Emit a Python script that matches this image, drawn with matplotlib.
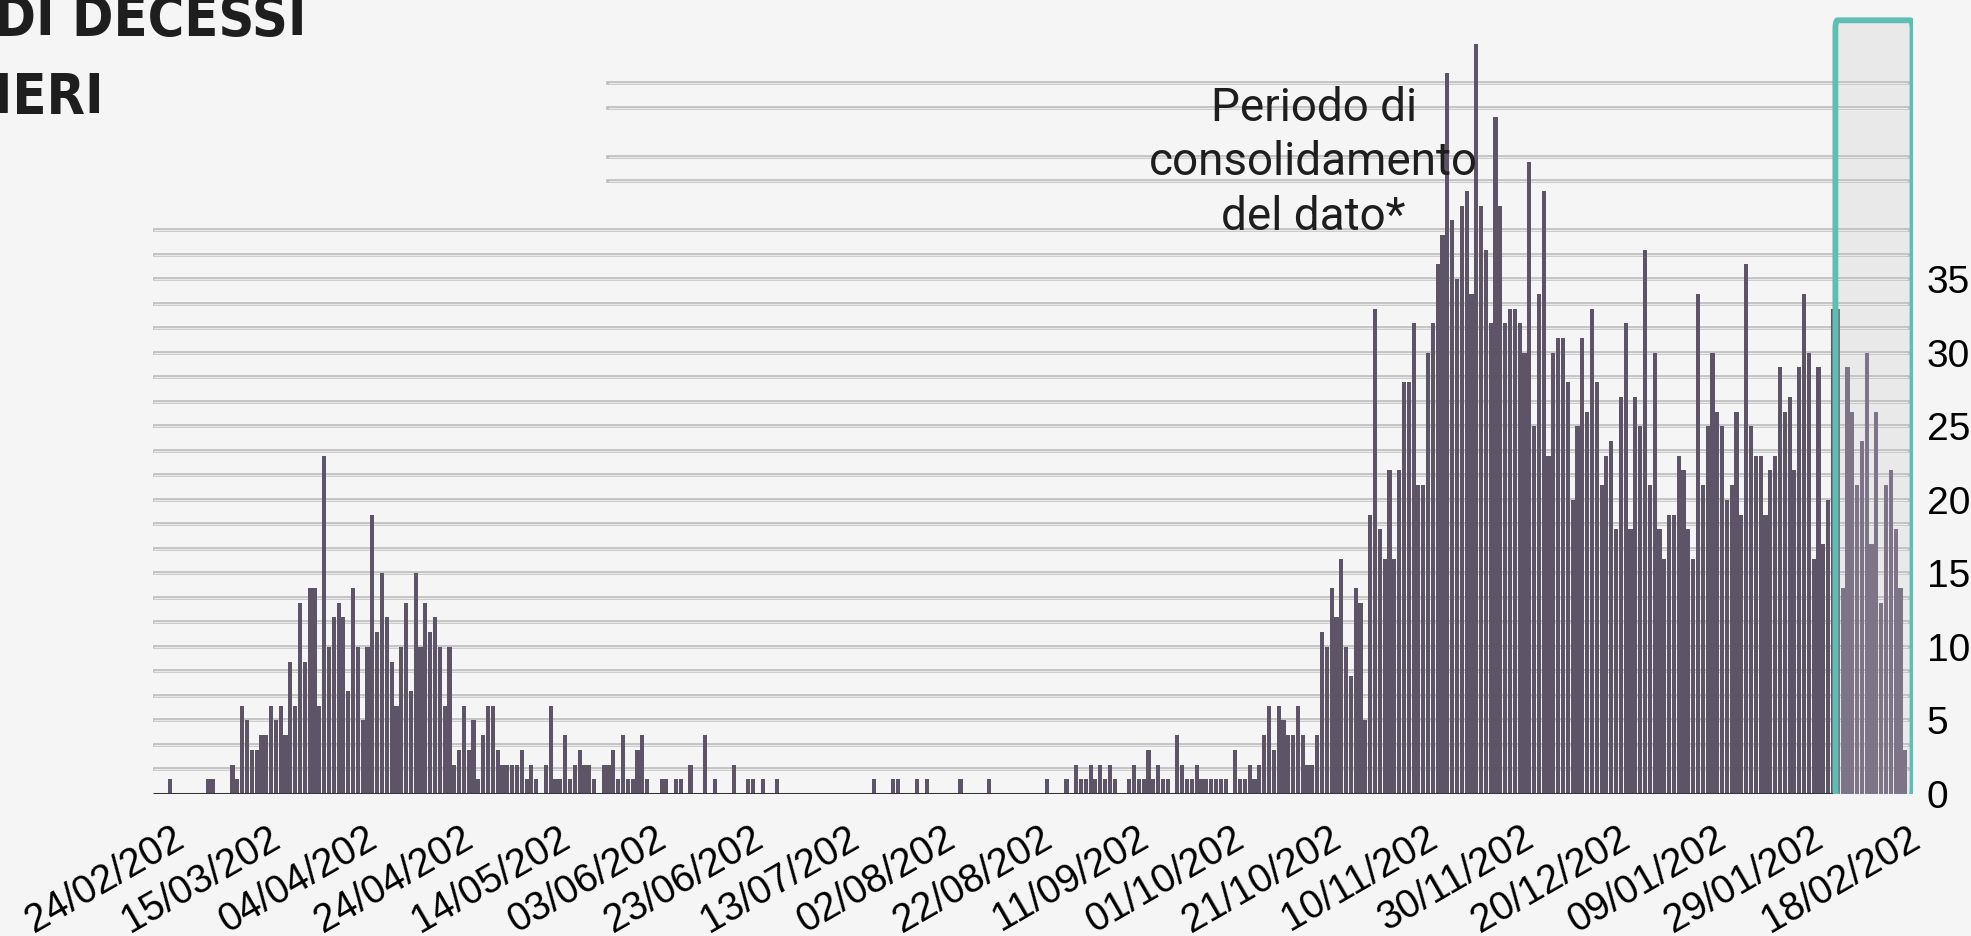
import numpy as np
import pandas as pd
import matplotlib
matplotlib.use("Agg")
import matplotlib.pyplot as plt
import matplotlib.transforms as mtransforms
from matplotlib.patches import Rectangle, FancyBboxPatch

plt.rcParams['font.family'] = ['Liberation Sans', 'DejaVu Sans']

# daily deaths, one value per day starting 24/02/2020
start_date = "2020-02-24"
wave1 = [0, 0, 0, 1, 0, 0, 0, 0, 0, 0,
         0, 1, 1, 0, 0, 0, 2, 1, 6, 5,
         3, 3, 4, 4, 6, 5, 6, 4, 9, 6,
         13, 9, 14, 14, 6, 23, 10, 12, 13, 12,
         7, 14, 10, 5, 10, 19, 11, 15, 12, 9,
         6, 10, 13, 7, 15, 10, 13, 11, 12, 10,
         6, 10, 2, 3, 6, 3, 5, 1, 4, 6]
summer = [6, 3, 2, 2, 2, 2, 3, 1, 2, 1,
          0, 2, 6, 1, 1, 4, 1, 2, 3, 2,
          2, 1, 0, 2, 2, 3, 1, 4, 1, 1,
          3, 4, 1, 0, 0, 1, 1, 0, 1, 1,
          0, 2, 0, 0, 4, 0, 1, 0, 0, 0,
          2, 0, 0, 1, 1, 0, 1, 0, 0, 1,
          0, 0, 0, 0, 0, 0, 0, 0, 0, 0,
          0, 0, 0, 0, 0, 0, 0, 0, 0, 1,
          0, 0, 0, 1, 1, 0, 0, 0, 1, 0,
          1, 0, 0, 0, 0, 0, 0, 1, 0, 0,
          0, 0, 0, 1, 0, 0, 0, 0, 0, 0,
          0, 0, 0, 0, 0, 1, 0, 0, 0, 1]
autumn = [0, 2, 1, 1, 2, 1, 2, 1, 2, 1,
          0, 0, 1, 2, 1, 1, 3, 1, 2, 1,
          1, 0, 4, 2, 1, 1, 2, 1, 1, 1,
          1, 1, 1, 0, 3, 1, 1, 2, 1, 2,
          4, 6, 3, 6, 5, 4, 4, 6, 4, 2,
          2, 4, 11, 10, 14, 12, 16, 10, 8, 14,
          13, 5]
wave2 = [19, 33, 18, 16, 22, 16, 22, 28, 28, 32,
         21, 21, 30, 32, 36, 38, 49, 39, 35, 40,
         41, 34, 51, 40, 37, 32, 46, 40, 32, 33,
         33, 32, 30, 43, 25, 34, 41, 23, 30, 31,
         31, 28, 20, 25, 31, 26, 33, 28, 21, 23,
         24, 18, 27, 32, 18, 27, 25, 37, 21, 30,
         18, 16, 19, 19, 23, 22, 18, 16, 34, 21,
         25, 30, 26, 25, 20, 21, 26, 19, 36, 25,
         23, 23, 19, 22, 23, 29, 26, 27, 22, 29,
         34, 30, 16, 29, 17, 20, 33]
consolidating = [33, 14, 29, 26, 21, 24, 30, 17, 26, 13, 21, 22, 18, 14, 3]

tick_labels = ["24/02/202", "15/03/202", "04/04/202", "24/04/202", "14/05/202",
               "03/06/202", "23/06/202", "13/07/202", "02/08/202", "22/08/202",
               "11/09/202", "01/10/202", "21/10/202", "10/11/202", "30/11/202",
               "20/12/202", "09/01/202", "29/01/202", "18/02/202"]
y_ticks = [0, 5, 10, 15, 20, 25, 30, 35]
grid_steps = list(range(1, 24))
grid_steps_top = [25, 26, 28, 29]
grid_unit = 5 / 3

deaths = np.array(wave1 + summer + autumn + wave2 + consolidating)
dates = pd.date_range(start_date, periods=len(deaths), freq="D")
days = np.arange(len(deaths))
n_cons = len(consolidating)

bg = "#f5f5f5"
fig = plt.figure(figsize=(19.71, 9.36), dpi=100, facecolor=bg)
ax = fig.add_axes([153 / 1971, 142 / 936, 1760 / 1971, 794 / 936])
ax.set_facecolor(bg)
ax.set_xlim(-0.5, 364.6)
ax.set_ylim(0, 53.98)
for s in ax.spines.values():
    s.set_visible(False)

# consolidation box (fill)
x0 = len(deaths) - n_cons - 0.5
ax.add_patch(Rectangle((x0, -0.2), 364.5 - x0, 52.8, facecolor="#e9e9e9",
                       edgecolor="none", zorder=0.5))

# double grid lines
def gridline(y, xmin):
    ax.axhline(y, xmin=xmin, xmax=0.997, color="#bcbcbc", lw=2.6, zorder=1)
    ax.axhline(y, xmin=xmin + 0.0005, xmax=0.9965, color="#e8e8e8", lw=1.0, zorder=1.1)

for k in grid_steps:
    gridline(k * grid_unit, 0.0)
for k in grid_steps_top:
    gridline(k * grid_unit, 0.2585)

colors = ["#5d5468"] * (len(deaths) - n_cons) + ["#7d7587"] * n_cons
ax.bar(days, deaths, width=0.86, color=colors, linewidth=0, zorder=2)

ax.plot([-0.5, x0], [0, 0], color="#333333", lw=2.2, zorder=2.5,
        solid_capstyle="butt")

ax.add_patch(FancyBboxPatch((x0, -0.2), 364.5 - x0, 52.8,
                            boxstyle="round,pad=0,rounding_size=0.5",
                            mutation_aspect=1.2, facecolor="none",
                            edgecolor="#5dbfb2", lw=4.2, zorder=3))

# axes ticks
ax.set_xticks(days[::20])
ax.set_xticklabels(tick_labels, rotation=30, ha="right", va="top", fontsize=28.5)
ax.tick_params(axis="x", length=0, pad=18)
offset = mtransforms.ScaledTranslation(0.35, 0, fig.dpi_scale_trans)
for lab in ax.get_xticklabels():
    lab.set_transform(lab.get_transform() + offset)

ax.yaxis.tick_right()
ax.set_yticks(y_ticks)
ax.set_yticklabels([str(v) for v in y_ticks], fontsize=28)
ax.tick_params(axis="y", length=0, pad=10)

ax.text(1045 / 1568, 1 - 129 / 745, "Periodo di\nconsolidamento\ndel dato*",
        transform=fig.transFigure, ha="center", va="center", fontsize=33,
        linespacing=1.3, color="#1e1e1e", fontweight="normal",
        family=["Roboto", "Liberation Sans", "DejaVu Sans"])

# title, partly out of the canvas
title_font = ["DejaVu Sans"]
fig.text(306 / 1971, 1 - 35 / 936, "NUMERO DI DECESSI", ha="right",
         va="baseline", fontsize=40, fontweight="bold", fontstretch="condensed",
         color="#1e1e1e", family=title_font)
fig.text(104 / 1971, 1 - 113 / 936, "GIORNALIERI", ha="right",
         va="baseline", fontsize=40, fontweight="bold", fontstretch="condensed",
         color="#1e1e1e", family=title_font)

fig.savefig("out.png", dpi=100, facecolor=bg)
